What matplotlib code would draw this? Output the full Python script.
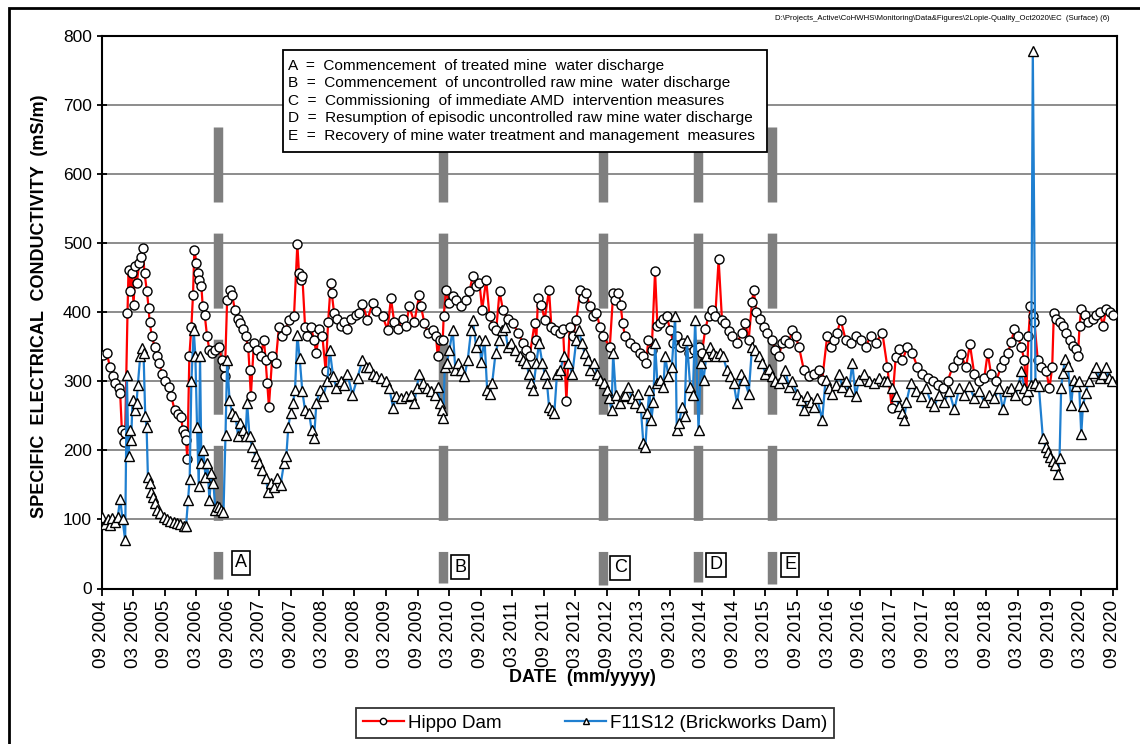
import matplotlib
matplotlib.use("Agg")
import matplotlib.pyplot as plt
from matplotlib.lines import Line2D
from matplotlib.patches import Rectangle
import numpy as np

plt.rcParams['font.family'] = ['Liberation Sans', 'DejaVu Sans']
plt.rcParams['lines.scale_dashes'] = False

# sampling dates (decimal years) and EC (mS/m)
hippo_date = [
    2004.693, 2004.746, 2004.799, 2004.852, 2004.879, 2004.932, 2004.958, 2004.984, 2005.011, 2005.037,
    2005.074, 2005.090, 2005.117, 2005.143, 2005.170, 2005.196, 2005.222, 2005.259, 2005.291, 2005.312,
    2005.344, 2005.381, 2005.408, 2005.423, 2005.460, 2005.503, 2005.540, 2005.577, 2005.619, 2005.672,
    2005.725, 2005.767, 2005.820, 2005.873, 2005.926, 2005.947, 2005.979, 2006.000, 2006.021, 2006.053,
    2006.085, 2006.111, 2006.132, 2006.164, 2006.191, 2006.212, 2006.243, 2006.265, 2006.296, 2006.333,
    2006.370, 2006.413, 2006.466, 2006.519, 2006.571, 2006.598, 2006.614, 2006.651, 2006.704, 2006.730,
    2006.773, 2006.825, 2006.862, 2006.899, 2006.942, 2006.984, 2007.005, 2007.026, 2007.074, 2007.127,
    2007.180, 2007.233, 2007.259, 2007.286, 2007.312, 2007.365, 2007.418, 2007.471, 2007.524, 2007.577,
    2007.629, 2007.709, 2007.762, 2007.788, 2007.815, 2007.841, 2007.884, 2007.921, 2007.973, 2008.026,
    2008.063, 2008.106, 2008.158, 2008.211, 2008.249, 2008.291, 2008.307, 2008.344, 2008.396, 2008.449,
    2008.502, 2008.555, 2008.608, 2008.687, 2008.740, 2008.793, 2008.872, 2008.952, 2009.004, 2009.110,
    2009.190, 2009.243, 2009.295, 2009.348, 2009.428, 2009.481, 2009.533, 2009.613, 2009.692, 2009.719,
    2009.772, 2009.825, 2009.904, 2009.957, 2009.983, 2010.020, 2010.063, 2010.078, 2010.115, 2010.168,
    2010.221, 2010.274, 2010.353, 2010.433, 2010.486, 2010.538, 2010.591, 2010.644, 2010.687, 2010.750,
    2010.803, 2010.856, 2010.909, 2010.962, 2011.015, 2011.094, 2011.174, 2011.253, 2011.332, 2011.385,
    2011.438, 2011.517, 2011.544, 2011.570, 2011.623, 2011.676, 2011.745, 2011.782, 2011.835, 2011.914,
    2011.967, 2012.020, 2012.073, 2012.126, 2012.178, 2012.242, 2012.284, 2012.337, 2012.390, 2012.443,
    2012.496, 2012.549, 2012.602, 2012.707, 2012.760, 2012.787, 2012.841, 2012.878, 2012.910, 2012.947,
    2013.027, 2013.106, 2013.185, 2013.238, 2013.280, 2013.318, 2013.370, 2013.423, 2013.460, 2013.503,
    2013.556, 2013.609, 2013.661, 2013.714, 2013.767, 2013.820, 2013.873, 2013.953, 2014.032, 2014.111,
    2014.164, 2014.217, 2014.270, 2014.323, 2014.376, 2014.429, 2014.482, 2014.535, 2014.587, 2014.640,
    2014.720, 2014.799, 2014.852, 2014.905, 2014.958, 2014.984, 2015.026, 2015.090, 2015.143, 2015.196,
    2015.275, 2015.328, 2015.381, 2015.434, 2015.487, 2015.540, 2015.593, 2015.646, 2015.699, 2015.778,
    2015.857, 2015.936, 2016.015, 2016.068, 2016.147, 2016.200, 2016.253, 2016.306, 2016.359, 2016.439,
    2016.518, 2016.597, 2016.676, 2016.756, 2016.835, 2016.914, 2017.020, 2017.100, 2017.169, 2017.232,
    2017.285, 2017.338, 2017.417, 2017.497, 2017.576, 2017.655, 2017.735, 2017.814, 2017.893, 2017.973,
    2018.052, 2018.131, 2018.211, 2018.264, 2018.343, 2018.406, 2018.475, 2018.555, 2018.634, 2018.687,
    2018.740, 2018.819, 2018.898, 2018.951, 2019.004, 2019.057, 2019.110, 2019.163, 2019.216, 2019.269,
    2019.295, 2019.332, 2019.364, 2019.401, 2019.427, 2019.480, 2019.533, 2019.612, 2019.665, 2019.708,
    2019.734, 2019.771, 2019.824, 2019.877, 2019.929, 2019.982, 2020.035, 2020.088, 2020.115, 2020.141,
    2020.168, 2020.221, 2020.274, 2020.353, 2020.406, 2020.459, 2020.512, 2020.565, 2020.618, 2020.671,
]
hippo_ec = [
    338, 340, 320, 308, 297, 290, 283, 230, 212, 225,
    398, 461, 430, 456, 410, 466, 442, 471, 480, 493,
    456, 430, 406, 386, 365, 350, 336, 326, 311, 300,
    292, 278, 258, 253, 248, 229, 224, 215, 188, 336,
    379, 425, 490, 471, 456, 447, 437, 408, 396, 365,
    345, 340, 345, 350, 330, 320, 307, 418, 432, 425,
    403, 390, 384, 375, 365, 350, 316, 278, 355, 345,
    336, 360, 331, 297, 263, 336, 326, 379, 365, 374,
    389, 394, 498, 456, 447, 452, 379, 365, 379, 360,
    340, 375, 365, 314, 385, 442, 427, 398, 390, 380,
    385, 375, 390, 395, 399, 411, 389, 413, 401, 394,
    374, 420, 385, 375, 390, 380, 408, 385, 425, 408,
    384, 370, 374, 365, 336, 360, 360, 394, 432, 413,
    423, 418, 408, 418, 430, 452, 437, 442, 403, 447,
    394, 380, 374, 430, 403, 390, 384, 370, 355, 345,
    336, 384, 360, 420, 410, 389, 432, 379, 374, 370,
    375, 271, 379, 365, 389, 432, 420, 427, 408, 394,
    399, 379, 365, 350, 427, 418, 428, 410, 384, 365,
    355, 350, 340, 336, 326, 360, 345, 459, 380, 384,
    390, 394, 374, 355, 365, 350, 355, 340, 345, 350,
    340, 375, 394, 403, 394, 476, 389, 384, 372, 365,
    355, 370, 384, 360, 415, 432, 400, 390, 379, 370,
    360, 345, 336, 355, 360, 355, 374, 365, 350, 316,
    307, 310, 316, 302, 365, 350, 360, 370, 389, 360,
    355, 365, 360, 350, 365, 355, 370, 320, 261, 335,
    346, 330, 350, 340, 320, 310, 305, 300, 295, 290,
    300, 320, 330, 339, 320, 353, 310, 300, 305, 341,
    310, 300, 320, 330, 340, 356, 375, 365, 350, 330,
    273, 365, 409, 394, 385, 330, 320, 315, 290, 320,
    399, 390, 385, 380, 370, 360, 351, 346, 336, 380,
    405, 395, 385, 390, 395, 400, 380, 405, 400, 395,
]

f11_date = [
    2004.678, 2004.720, 2004.762, 2004.799, 2004.836, 2004.879, 2004.921, 2004.958, 2004.995, 2005.037,
    2005.064, 2005.090, 2005.111, 2005.132, 2005.154, 2005.186, 2005.217, 2005.238, 2005.275, 2005.302,
    2005.328, 2005.355, 2005.376, 2005.397, 2005.423, 2005.450, 2005.471, 2005.503, 2005.540, 2005.593,
    2005.646, 2005.698, 2005.751, 2005.804, 2005.857, 2005.910, 2005.963, 2006.000, 2006.032, 2006.058,
    2006.085, 2006.122, 2006.148, 2006.175, 2006.202, 2006.222, 2006.243, 2006.275, 2006.307, 2006.339,
    2006.370, 2006.402, 2006.434, 2006.466, 2006.497, 2006.529, 2006.561, 2006.593, 2006.625, 2006.651,
    2006.688, 2006.730, 2006.783, 2006.825, 2006.862, 2006.899, 2006.942, 2006.968, 2007.005, 2007.047,
    2007.100, 2007.153, 2007.206, 2007.259, 2007.301, 2007.339, 2007.392, 2007.444, 2007.497, 2007.550,
    2007.587, 2007.619, 2007.656, 2007.693, 2007.725, 2007.762, 2007.799, 2007.841, 2007.884, 2007.947,
    2007.989, 2008.026, 2008.063, 2008.116, 2008.169, 2008.238, 2008.275, 2008.328, 2008.381, 2008.449,
    2008.502, 2008.555, 2008.634, 2008.714, 2008.793, 2008.846, 2008.899, 2008.952, 2009.004, 2009.084,
    2009.163, 2009.216, 2009.279, 2009.322, 2009.401, 2009.481, 2009.560, 2009.613, 2009.650, 2009.692,
    2009.745, 2009.809, 2009.877, 2009.946, 2009.983, 2010.020, 2010.052, 2010.073, 2010.094, 2010.126,
    2010.168, 2010.221, 2010.263, 2010.300, 2010.353, 2010.406, 2010.459, 2010.512, 2010.538, 2010.591,
    2010.644, 2010.671, 2010.724, 2010.766, 2010.803, 2010.845, 2010.898, 2010.951, 2011.004, 2011.041,
    2011.094, 2011.147, 2011.200, 2011.279, 2011.332, 2011.385, 2011.427, 2011.465, 2011.491, 2011.544,
    2011.587, 2011.639, 2011.676, 2011.713, 2011.745, 2011.787, 2011.829, 2011.871, 2011.925, 2011.977,
    2012.046, 2012.115, 2012.178, 2012.221, 2012.263, 2012.311, 2012.364, 2012.401, 2012.454, 2012.506,
    2012.559, 2012.612, 2012.655, 2012.697, 2012.734, 2012.760, 2012.802, 2012.866, 2012.919, 2012.947,
    2013.000, 2013.053, 2013.106, 2013.159, 2013.196, 2013.238, 2013.270, 2013.302, 2013.333, 2013.365,
    2013.397, 2013.423, 2013.460, 2013.503, 2013.556, 2013.582, 2013.635, 2013.688, 2013.741, 2013.767,
    2013.804, 2013.847, 2013.889, 2013.926, 2013.979, 2014.021, 2014.058, 2014.111, 2014.148, 2014.190,
    2014.233, 2014.286, 2014.339, 2014.392, 2014.444, 2014.497, 2014.561, 2014.614, 2014.667, 2014.720,
    2014.783, 2014.836, 2014.905, 2014.958, 2015.010, 2015.063, 2015.116, 2015.169, 2015.222, 2015.275,
    2015.328, 2015.381, 2015.434, 2015.487, 2015.540, 2015.593, 2015.672, 2015.725, 2015.778, 2015.831,
    2015.884, 2015.936, 2015.989, 2016.068, 2016.121, 2016.174, 2016.227, 2016.280, 2016.333, 2016.386,
    2016.439, 2016.491, 2016.544, 2016.597, 2016.650, 2016.729, 2016.809, 2016.888, 2016.968, 2017.047,
    2017.100, 2017.179, 2017.232, 2017.285, 2017.327, 2017.365, 2017.402, 2017.470, 2017.550, 2017.629,
    2017.708, 2017.788, 2017.841, 2017.920, 2017.999, 2018.079, 2018.158, 2018.237, 2018.317, 2018.396,
    2018.475, 2018.555, 2018.634, 2018.713, 2018.793, 2018.872, 2018.925, 2018.988, 2019.057, 2019.126,
    2019.179, 2019.216, 2019.269, 2019.322, 2019.375, 2019.401, 2019.443, 2019.496, 2019.560, 2019.602,
    2019.639, 2019.681, 2019.718, 2019.755, 2019.797, 2019.824, 2019.850, 2019.877, 2019.914, 2019.956,
    2020.009, 2020.046, 2020.088, 2020.131, 2020.168, 2020.194, 2020.237, 2020.290, 2020.353, 2020.406,
    2020.459, 2020.512, 2020.554, 2020.607, 2020.660,
]
f11_ec = [
    104, 94, 100, 92, 102, 96, 104, 130, 100, 70,
    309, 191, 229, 215, 273, 258, 268, 295, 336, 348,
    340, 249, 234, 162, 152, 140, 133, 123, 113, 109,
    104, 100, 98, 96, 95, 93, 91, 90, 128, 159,
    300, 374, 336, 233, 149, 336, 181, 201, 162, 181,
    128, 167, 152, 113, 120, 118, 113, 110, 222, 331,
    273, 254, 249, 220, 239, 229, 220, 268, 220, 205,
    191, 181, 171, 160, 140, 152, 147, 160, 150, 181,
    191, 234, 254, 268, 287, 367, 333, 285, 258, 254,
    229, 217, 268, 287, 278, 300, 345, 307, 290, 300,
    295, 310, 280, 305, 331, 320, 321, 310, 307, 305,
    300, 290, 261, 278, 275, 278, 280, 268, 290, 311,
    297, 290, 285, 280, 292, 268, 258, 246, 321, 326,
    345, 374, 316, 326, 316, 307, 331, 374, 389, 350,
    360, 328, 360, 287, 282, 297, 340, 360, 374, 379,
    350, 355, 345, 336, 330, 326, 311, 297, 287, 326,
    355, 326, 311, 297, 263, 258, 254, 311, 316, 336,
    326, 311, 360, 374, 355, 340, 330, 316, 326, 311,
    302, 297, 287, 275, 258, 340, 280, 268, 278, 280,
    292, 275, 268, 282, 263, 210, 205, 254, 287, 244,
    270, 355, 297, 302, 292, 336, 307, 320, 394, 229,
    239, 263, 250, 360, 292, 280, 389, 229, 326, 302,
    336, 350, 341, 336, 341, 336, 316, 307, 297, 268,
    311, 302, 282, 350, 345, 336, 326, 311, 318, 307,
    300, 297, 305, 316, 292, 300, 282, 273, 258, 278,
    270, 263, 275, 244, 302, 290, 282, 295, 311, 292,
    300, 285, 326, 278, 302, 311, 300, 297, 305, 300,
    300, 290, 278, 264, 254, 244, 270, 298, 285, 278,
    290, 270, 264, 280, 270, 285, 259, 290, 280, 293,
    275, 285, 270, 280, 275, 290, 259, 285, 290, 280,
    295, 314, 290, 285, 295, 778, 298, 293, 218, 205,
    198, 190, 185, 178, 165, 189, 290, 312, 332, 322,
    266, 302, 293, 300, 223, 264, 283, 300, 312, 320,
    305, 310, 320, 305, 300,
]

# event markers A-E
event_labels = ['A', 'B', 'C', 'D', 'E']
event_date = [2006.51, 2010.07, 2012.60, 2014.10, 2015.27]
event_top = [668, 668, 668, 668, 668]
event_bottom = [14, 8, 5, 10, 6]
event_label_date = [2006.87, 2010.34, 2012.87, 2014.39, 2015.56]
event_label_y = [37, 31, 30, 34, 34]

event_text = [
    'A  =  Commencement  of treated mine  water discharge',
    'B  =  Commencement  of uncontrolled raw mine  water discharge',
    'C  =  Commissioning  of immediate AMD  intervention measures',
    'D  =  Resumption of episodic uncontrolled raw mine water discharge',
    'E  =  Recovery of mine water treatment and management  measures',
]

tick_pos = []
tick_lab = []
for yr in range(2004, 2021):
    if yr > 2004:
        tick_pos.append(yr + 59 / 365)
        tick_lab.append('03 %d' % yr)
    tick_pos.append(yr + 243 / 365)
    tick_lab.append('09 %d' % yr)

W, H = 1140, 744
fig = plt.figure(figsize=(W / 100, H / 100), dpi=100)
ax = fig.add_axes([101.7 / W, 1 - 588.5 / H, (1116.7 - 101.7) / W, (588.5 - 35.5) / H])

# outer frame (top and left edges visible)
fig.patches.append(Rectangle((9 / W, -0.1), 1.5, 1 - 8 / H + 0.1, transform=fig.transFigure,
                             fill=False, ec='black', lw=2))

ax.set_ylim(0, 800)
ax.set_xlim(2004 + 243 / 365, 2020 + 243 / 365 + 0.063)
ax.set_yticks(range(0, 801, 100))
ax.set_xticks(tick_pos)
ax.set_xticklabels(tick_lab, rotation=90, fontsize=13.5)
ax.tick_params(axis='y', labelsize=12.5, direction='inout', length=7, width=1.3)
ax.tick_params(axis='x', direction='out', length=5, width=1.3)
for s in ax.spines.values():
    s.set_linewidth(1.5)
ax.yaxis.grid(True, color='#8c8c8c', lw=1.4)
ax.set_axisbelow(True)

for d, top, bot in zip(event_date, event_top, event_bottom):
    ax.add_line(Line2D([d, d], [top, bot], color='#7f7f7f', lw=6.8,
                       dashes=(54, 22.4), solid_capstyle='butt', zorder=2))

ax.plot(hippo_date, hippo_ec, color='#ff0000', lw=1.6, marker='o', ms=6.5,
        mfc='white', mec='black', mew=1.0, zorder=3, label='Hippo Dam')
ax.plot(f11_date, f11_ec, color='#1f7fd0', lw=1.6, marker='^', ms=6.5,
        mfc='white', mec='black', mew=1.0, zorder=4, label='F11S12 (Brickworks Dam)')

for lab, d, y in zip(event_labels, event_label_date, event_label_y):
    ax.text(d, y, lab, fontsize=13, ha='center', va='center', zorder=5,
            bbox=dict(boxstyle='square,pad=0.18', fc='white', ec='black', lw=1.2))

# notes box
fig.patches.append(Rectangle((283 / W, 1 - 152 / H), (767 - 283) / W, (152 - 50) / H,
                             transform=fig.transFigure, fc='white', ec='black', lw=1.3, zorder=6))
for i, t in enumerate(event_text):
    fig.text(288 / W, 1 - (65.7 + 17.5 * i) / H, t, fontsize=11.1, ha='left', va='center', zorder=7)

fig.text(1110 / W, 1 - 18 / H,
         'D:\\Projects_Active\\CoHWHS\\Monitoring\\Data&Figures\\2Lopie-Quality_Oct2020\\EC  (Surface) (6)',
         fontsize=5.6, ha='right', va='center')

fig.text(40 / W, 1 - 306 / H, 'SPECIFIC  ELECTRICAL  CONDUCTIVITY  (mS/m)', rotation=90,
         fontsize=13, fontweight='bold', ha='center', va='center')
fig.text(582 / W, 1 - 677 / H, 'DATE  (mm/yyyy)', fontsize=13, fontweight='bold',
         ha='center', va='center')

handles, labels = ax.get_legend_handles_labels()
leg = fig.legend(handles, labels, loc='center', bbox_to_anchor=(595 / W, 1 - 723 / H), ncol=2,
                 fontsize=13.5, frameon=True, fancybox=False, edgecolor='black',
                 handlelength=2.2, handletextpad=0.2, columnspacing=3.4, markerscale=0.7,
                 borderpad=0.35, borderaxespad=0.0)
leg.get_frame().set_linewidth(1.3)

fig.savefig('out.png', dpi=100)
